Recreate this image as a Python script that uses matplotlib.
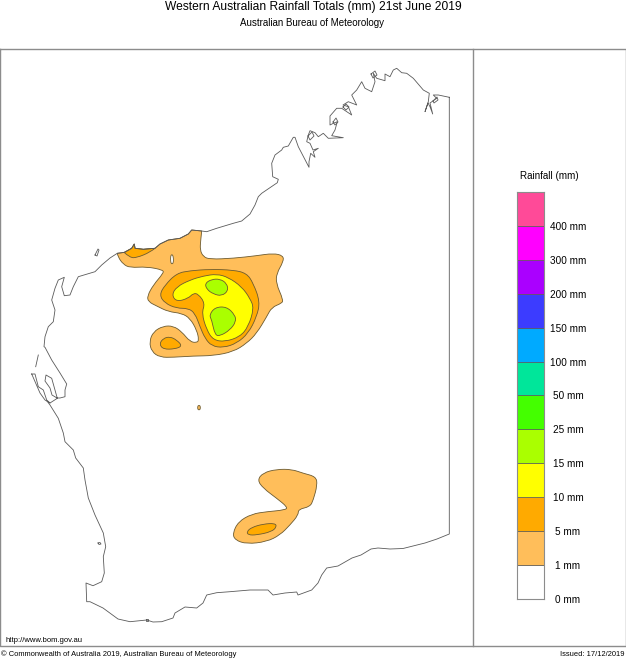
import matplotlib
matplotlib.use("Agg")
import matplotlib.pyplot as plt
from matplotlib.path import Path
from matplotlib.patches import PathPatch

plt.rcParams['font.family'] = ['Liberation Sans', 'DejaVu Sans']

W, H = 626, 658
TITLE = "Western Australian Rainfall Totals (mm) 21st June 2019"
SUBTITLE = "Australian Bureau of Meteorology"
LEGEND_TITLE = "Rainfall (mm)"
LEVEL_LABELS = ["0 mm", "1 mm", "5 mm", "10 mm", "15 mm", "25 mm", "50 mm",
                "100 mm", "150 mm", "200 mm", "300 mm", "400 mm"]
LEVEL_COLORS = ["#FFFFFF", "#FFBE5A", "#FFAA00", "#FFFF00", "#AAFF00", "#44FF00",
                "#00E69A", "#00AAFF", "#3C3CFF", "#AA00FF", "#FF00FF", "#FF4A98"]

COAST = [(449.3,97.3),(449.3,534),(437,539),(425,543),(415,545.5),(403,548.5),(390,549),(378,548),(371,549),
 (361,555),(352,558),(345,562),(338,566),(326.7,568),(321.7,575),(318,583),(311.7,590),(298,595),(296.7,592),
 (285,593),(273,595),(268,590),(250,590),(230,591.7),(216.7,592.7),(206.7,595),(203,603),(196.7,608),(185,607),
 (175,613),(173,618),(161.7,621.7),(153,622),(146.7,620),(130,621.7),(118,619),(103,608),(90,601.7),(86.7,601.7),
 (86,583),(93,585.7),(101.7,581.7),(104.3,573),(103.3,556.7),(105.7,546.7),(103.3,533),(95,515),(88.3,498),
 (85,480),(83.3,468),(75.7,458),(73.3,450),(65,441.7),(63.3,433),(58.3,418.3),(50,405),(47,401),(50,403),
 (57.3,398.3),(55,390),(51.7,378.3),(46,375),(45,381),(50,388),(52,395),(57,398),(60,398),(65,396.7),(65,390),
 (66.7,384),(60,373),(51.7,360),(45,347.3),(44,346.7),(45,336.7),(48.3,326.7),(53.3,321.7),(55,310),(51.7,300),
 (55,288.3),(58.3,280),(64.3,277.3),(61.7,286.7),(64.3,295.7),(70,295),(73.3,286.7),(78.3,276.7),(95,271.7),
 (101.7,265),(110,258),(117.3,253.3),(125,252.3),(131.7,248.3),(134.3,244),(135,248.3),(143.3,249.3),(155,248.3),
 (160,244),(168.3,240),(180,238.3),(188.3,234),(191.7,230),(201.7,231),(206.7,231.7),(216.7,228.3),(233.3,223.3),
 (241.7,221),(250,214),(255,205),(258.3,196.7),(261.7,193.3),(277.3,182.7),(278.3,179.3),(272.7,176.7),
 (271.7,163.3),(275,155),(281.7,150),(283.3,147.3),(288.3,146),(293.3,137.3),(295,137.3),(298.3,146.7),(309,167.3),
 (309,161.7),(310.7,153.3),(315,157.3),(313.3,151.7),(318.3,148.3),(313,150),(310,143.3),(306.7,141.7),(308.3,135),
 (310,130.7),(315,132.7),(318.3,136.7),(323.3,133.3),(328.3,138.3),(343.3,137.7),(331.7,135.7),(335,130),
 (337.3,121.7),(333.3,123.3),(330,125),(330,116),(336.7,108.3),(341.7,108.3),(351.7,115),(348.3,106.7),(343,105),
 (348.3,101.7),(356.7,105),(351.7,95),(356.7,90),(361.7,81.7),(365,88.3),(371.7,91.7),(375,81.7),(373.3,73.3),
 (376.7,78.3),(385,80.7),(385,74),(390,76.7),(393.3,70),(396.7,68.3),(401.7,72.7),(406.7,73.3),(413.3,78.3),
 (423.3,90),(429.3,93.3),(428.3,101.7),(425,111.7),(428,103),(430,106.7),(432.7,114),(430,103),(436.7,98.3),
 (433.3,95),(438.3,95),(449.3,97.3)]
BERNIER_ISLAND = [(38.3,355),(35.7,366.7)]
DIRK_HARTOG = [(31.7,374),(35,374),(38.3,386.7),(43.3,390),(46.7,400),(50,403),(45,400),(40,393),(31.7,374)]
BARROW_ISLAND = [(95,255),(98,249),(99,250),(97,256),(95,255)]
LOOP_A = [(371,74),(375,71),(377,75),(373,78),(371,74)]
LOOP_B = [(343,107),(346,104),(349,107),(346,110),(343,107)]
LOOP_C = [(308,136),(312,132),(314,136),(310,140),(308,136)]
LOOP_D = [(333,122),(336,118),(338,122),(335,125),(333,122)]
LOOP_E = [(433,101),(437,97),(438,100),(434,103),(433,101)]
LOOP_F = [(98,543),(100,542.5),(101,544),(99,544.5),(98,543)]
LOOP_G = [(146,619),(148,619),(148,621),(146,621),(146,619)]
COAST_PIECES = [COAST, BERNIER_ISLAND, DIRK_HARTOG, BARROW_ISLAND, LOOP_A, LOOP_B, LOOP_C, LOOP_D, LOOP_E, LOOP_F, LOOP_G]

# Rain outlines in image pixels; the points listed before the given count follow the coast
RAIN_1_NORTH = [(117.3,253.3),(125,252.3),(131.7,248.3),(134.3,244),(135,248.3),(143.3,249.3),(155,248.3),(160,244),
 (168.3,240),(180,238.3),(188.3,234),(191.7,230),(201.7,231),(200.7,240),(200,250),(203.3,256.7),(210,259.3),
 (233.3,258.3),(256.7,255.7),(273.3,253.3),(283.3,255.7),(283.3,261.7),(276.7,273.3),(276,283.3),(283.3,300),
 (281.7,303.3),(271.7,307.3),(266.7,316.7),(256.7,333.3),(246.7,343.3),(233.3,351.7),(213.3,355.7),(193.3,356),
 (173.3,357.3),(160,357.3),(151.7,351.7),(149.3,341.7),(153.3,331.7),(163.3,326),(173.3,326),(181.7,331.7),
 (190,341.7),(196.7,342.7),(199,340),(196.7,330),(190,318.3),(181.7,313.3),(168.3,311.7),(156.7,306),(148.3,301.7),
 (147.3,296),(153.3,285),(163.3,273.3),(163.3,270),(146.7,266.7),(130,267.7),(123.3,264.3),(118,257)]
RAIN_1_SOUTH = [(257.3,480),(263.3,472.7),(276.7,469.3),(291.7,469.3),(303.3,473.3),(316,476.7),(317.3,485),(313.3,500),
 (310,506.7),(298.3,509.3),(298.3,515),(290,525),(280,535),(266.7,541.7),(246.7,544),(235,540),(232.7,533.3),
 (238.3,521.7),(251.7,514),(266.7,511.7),(285,510),(287.7,507.3),(276.7,498.3),(263.3,488.3)]
RAIN_1_DOT = [(199,405.3),(200.3,406),(200.3,409.3),(199,410),(197.7,409.3),(197.7,406)]
RAIN_5_MAIN = [(159.3,295),(165,285),(176.7,273.3),(190,270.7),(210,269.3),(233.3,270),(246.7,273.3),(253.3,283.3),
 (260,301.7),(256.7,316.7),(248.3,333.3),(236.7,343.3),(223.3,347.7),(211.7,346),(205,338.3),(200,326.7),
 (195,313.3),(188.3,308.3),(176.7,308.3),(165,303.3)]
RAIN_5_WEST = [(159.3,344),(163.3,338.3),(170,336.7),(176.7,340),(182.3,346),(175,349),(163.3,349.3)]
RAIN_5_COAST = [(124,252.3),(131.7,248.3),(134.3,244),(135,248.3),(143.3,249.3),(155,248.3),(150,252.3),(136.7,257.7),(130,257.7)]
RAIN_5_SOUTH = [(246.7,531.7),(251.7,527.3),(263.3,524),(275,523.3),(276.7,526.7),(271.7,531.7),(256.7,535),(248.3,535)]
RAIN_10 = [(171.7,295),(176.7,286.7),(190,280),(203.3,276),(216.7,274),(228.3,277.3),(241.7,286.7),(250,298.3),(254,308.3),
 (248.3,326.7),(240,336.7),(225,341.7),(213.3,340),(206.7,330),(201.7,313.3),(205,303.3),(198.3,294),(193.3,293.3),
 (188.3,298.3),(176.7,301.7)]
RAIN_15_TOP = [(205,283.3),(211.7,279.3),(220,279),(226.7,283.3),(228.3,290.7),(221.7,296),(213.3,294),(206.7,289.3)]
RAIN_15_LOW = [(209.3,315),(215,307.3),(226.7,306.7),(235,315),(236,321.7),(230,330),(220,336),(215,335),(211.7,320)]
LAKE = [(171,255),(172.5,254.5),(173.5,258),(173.3,263),(172,264),(170.8,263),(170.5,258)]

RAIN_AREAS = [(1, RAIN_1_NORTH, 13), (1, RAIN_1_SOUTH, 0), (1, RAIN_1_DOT, 0), (2, RAIN_5_MAIN, 0), (2, RAIN_5_WEST, 0),
              (2, RAIN_5_COAST, 6), (2, RAIN_5_SOUTH, 0), (3, RAIN_10, 0), (4, RAIN_15_TOP, 0), (4, RAIN_15_LOW, 0),
              (0, LAKE, 0)]


def rain_path(pts, sharp):
    """Closed outline: straight along the coast points, quadratic spline through the rest."""
    mid = lambda a, b: ((a[0] + b[0]) / 2, (a[1] + b[1]) / 2)
    if sharp:
        verts = list(pts[:sharp])
        codes = [Path.MOVETO] + [Path.LINETO] * (sharp - 1)
        rest = pts[sharp:]
        for i, p in enumerate(rest):
            nxt = rest[i + 1] if i + 1 < len(rest) else pts[0]
            end = mid(p, nxt) if i + 1 < len(rest) else pts[0]
            verts += [p, end]
            codes += [Path.CURVE3, Path.CURVE3]
        return Path(verts, codes)
    n = len(pts)
    verts = [mid(pts[-1], pts[0])]
    codes = [Path.MOVETO]
    for i in range(n):
        verts += [pts[i], mid(pts[i], pts[(i + 1) % n])]
        codes += [Path.CURVE3, Path.CURVE3]
    return Path(verts, codes)


fig = plt.figure(figsize=(W / 100, H / 100), dpi=100)
ax = fig.add_axes([0, 0, 1, 1])
ax.set_xlim(0, W)
ax.set_ylim(H, 0)
ax.axis('off')

for level, outline, sharp in RAIN_AREAS:
    ax.add_patch(PathPatch(rain_path(outline, sharp), facecolor=LEVEL_COLORS[level],
                           edgecolor='#6b5a30', linewidth=0.6, zorder=2))

for line in COAST_PIECES:
    ax.plot(*zip(*line), color='#5a5a5a', lw=0.6, solid_joinstyle='round', zorder=3)

# Page frame
ax.plot([0.3, 625.5, 625.5, 0.3, 0.3], [48.5, 48.5, 646, 646, 48.5], color='#8c8c8c', lw=1.0, zorder=1)
ax.plot([473, 473], [48.5, 646], color='#8c8c8c', lw=1.0, zorder=1)

ax.text(313, 1, TITLE, ha='center', va='top', fontsize=8.65, color='black')
ax.text(312.5, 22.5, SUBTITLE, ha='center', va='center', fontsize=7.0, color='black')
ax.text(549, 176, LEGEND_TITLE, ha='center', va='center', fontsize=7.1, color='black')
ax.text(5, 640.5, "http://www.bom.gov.au", ha='left', va='center', fontsize=5.5, color='black')
ax.text(1, 654, "\u00a9 Commonwealth of Australia 2019, Australian Bureau of Meteorology", ha='left', va='center',
        fontsize=5.45, color='black')
ax.text(624, 654, "Issued: 17/12/2019", ha='right', va='center', fontsize=5.45, color='black')

# Legend colour scale, one cell per rainfall class
lax = fig.add_axes([517 / W, 1 - 599 / H, 27 / W, 407 / H])
lax.bar([0] * len(LEVEL_COLORS), [1] * len(LEVEL_COLORS), bottom=range(len(LEVEL_COLORS)), width=1,
        color=LEVEL_COLORS, edgecolor='#5a5a5a', linewidth=0.5)
lax.set_xlim(-0.5, 0.5)
lax.set_ylim(0, len(LEVEL_COLORS))
lax.set_xticks([])
lax.yaxis.tick_right()
lax.set_yticks(range(len(LEVEL_LABELS)), LEVEL_LABELS, fontsize=7.2, ha='center')
lax.tick_params(axis='y', length=0, pad=17.3)
for s in lax.spines.values():
    s.set_color('#8c8c8c')
    s.set_linewidth(0.8)

fig.savefig('out.png', dpi=100)
